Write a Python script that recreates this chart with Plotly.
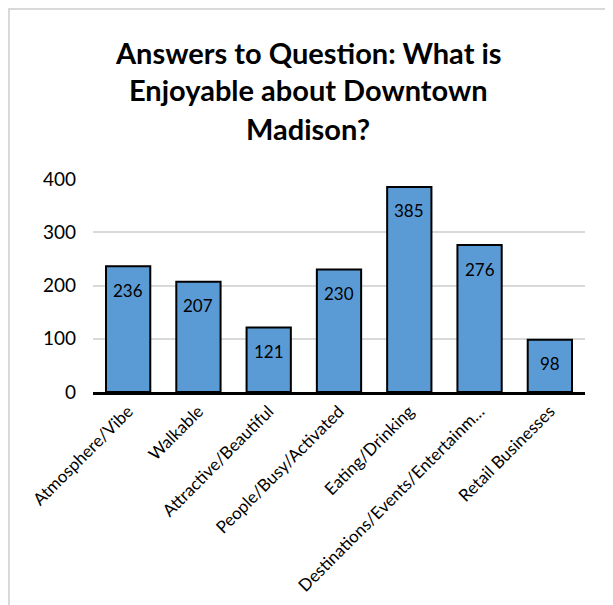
import plotly.graph_objects as go

categories = ["Atmosphere/Vibe", "Walkable", "Attractive/Beautiful", "People/Busy/Activated",
              "Eating/Drinking", "Destinations/Events/Entertainm…", "Retail Businesses"]
values = [236, 207, 121, 230, 385, 276, 98]
y_ticks = [0, 100, 200, 300, 400]
title_lines = ["Answers to Question: What is", "Enjoyable about Downtown", "Madison?"]

FONT = "Lato, 'Open Sans', sans-serif"

W, H = 605, 597
L, R, T, B = 85, 28, 171, 213
PW, PH = W - L - R, H - T - B

fig = go.Figure()
fig.add_trace(go.Bar(
    x=categories, y=values,
    marker=dict(color="#5B9BD5", line=dict(color="black", width=2)),
    textposition="none",
    hoverinfo="skip",
))

for c, v in zip(categories, values):
    fig.add_annotation(x=c, y=v, text=str(v), showarrow=False, yshift=-24,
                       font=dict(size=17, color="black", family=FONT))

for i, line in enumerate(title_lines):
    ypix = 44 + 38 * i
    fig.add_annotation(xref="paper", yref="paper",
                       x=(300 - L) / PW, y=1 + (T - ypix) / PH,
                       text="<b>" + line + "</b>", showarrow=False,
                       xanchor="center", yanchor="middle",
                       font=dict(size=29, color="black", family=FONT))

fig.update_layout(
    width=W, height=H,
    margin=dict(l=L, r=R, t=T, b=B, autoexpand=False),
    paper_bgcolor="white", plot_bgcolor="white",
    bargap=0.37,
    showlegend=False,
    font=dict(family=FONT, color="black"),
    shapes=[dict(type="rect", xref="paper", yref="paper",
                 x0=-(L - 1) / PW, x1=1 + (R + 10) / PW,
                 y0=-(B + 10) / PH, y1=1 + (T - 1) / PH,
                 line=dict(color="#d9d9d9", width=2), fillcolor="rgba(0,0,0,0)",
                 layer="below")],
)
fig.update_yaxes(range=[0, 400], tickvals=y_ticks, showgrid=True, gridcolor="#d9d9d9",
                 gridwidth=1.5, zeroline=False, showline=False, automargin=False,
                 tickfont=dict(size=19, color="black"), ticklabelstandoff=16)
fig.update_xaxes(showline=True, linecolor="black", linewidth=2.5, tickangle=-45,
                 automargin=False,
                 tickfont=dict(size=17, color="black"), ticks="")

fig.write_html("out.html")
